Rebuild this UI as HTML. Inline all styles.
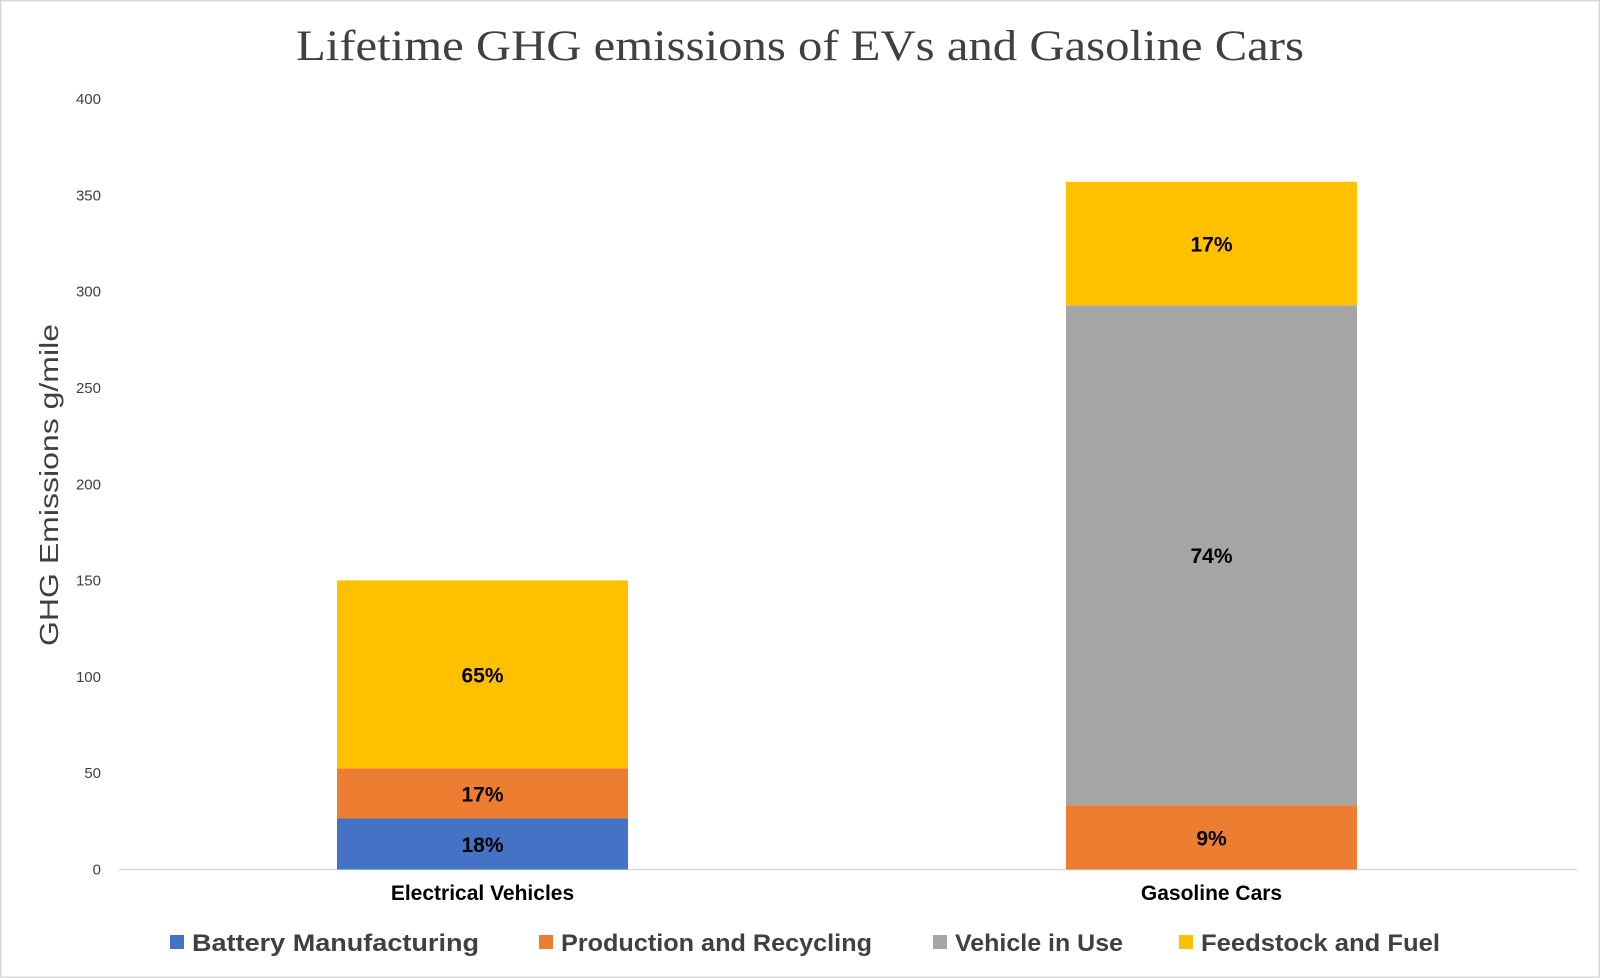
<!DOCTYPE html>
<html><head><meta charset="utf-8"><style>
body{margin:0;background:#fff}
svg{display:block}
</style></head><body>
<svg id="chart" width="1600" height="978" xmlns="http://www.w3.org/2000/svg">
<rect x="0.5" y="0.5" width="1599" height="977" fill="#fff" stroke="#d9d9d9" stroke-width="2"/>
<text x="800" y="60" text-anchor="middle" font-family="Liberation Serif, serif" font-size="43" fill="#404040" textLength="1008" lengthAdjust="spacingAndGlyphs">Lifetime GHG emissions of EVs and Gasoline Cars</text>
<text transform="translate(58,485) rotate(-90)" text-anchor="middle" font-family="Liberation Sans, sans-serif" font-size="26" fill="#404040" textLength="322" lengthAdjust="spacingAndGlyphs">GHG Emissions g/mile</text>
<g id="ticks"></g><g id="bars"></g><g id="legend"></g>
</svg>
<script>
const categories = ["Electrical Vehicles", "Gasoline Cars"];
const seriesNames = ["Battery Manufacturing", "Production and Recycling", "Vehicle in Use", "Feedstock and Fuel"];
const battery = [26.5, 0];
const production = [26, 33.4];
const vehicleUse = [0, 259.5];
const feedstock = [97.6, 64.1];
const pctLabels = [["18%","17%","","65%"],["","9%","74%","17%"]];
const yTicks = [0, 50, 100, 150, 200, 250, 300, 350, 400];
const colors = ["#4472c4", "#ed7d31", "#a5a5a5", "#ffc000"];
const NS = "http://www.w3.org/2000/svg";
const y0 = 869.5, yTop = 99, yMax = 400;
const y = v => y0 - v / yMax * (y0 - yTop);
const barW = 291;
const xCenter = i => 482.5 + i * 729;
function mk(tag, attrs, parent){const e=document.createElementNS(NS,tag);for(const k in attrs)e.setAttribute(k,attrs[k]);parent.appendChild(e);return e;}
const ticksG=document.getElementById('ticks');
yTicks.forEach(t=>{
  const tx=mk('text',{x:101,y:y(t)+5,'text-anchor':'end','font-family':'Liberation Sans, sans-serif','font-size':15,fill:'#404040'},ticksG);
  tx.textContent=t;
  
  
});
const axis=mk('line',{x1:119,x2:1577,y1:y0,y2:y0,stroke:'#d9d9d9','stroke-width':1.5},ticksG);


const barsG=document.getElementById('bars');
const series=[battery,production,vehicleUse,feedstock];
categories.forEach((c,i)=>{
  let base=0;
  series.forEach((s,j)=>{
    const v=s[i]; if(!v) return;
    const r=mk('rect',{x:xCenter(i)-barW/2,y:y(base+v),width:barW,height:y(base)-y(base+v),fill:colors[j]},barsG);
    
    
    if(pctLabels[i][j]){
      const t=mk('text',{x:xCenter(i),y:(y(base)+y(base+v))/2+8,'text-anchor':'middle','font-family':'Liberation Sans, sans-serif','font-size':21,'font-weight':'bold',fill:'#000'},barsG);
      t.textContent=pctLabels[i][j];
      
      
    }
    base+=v;
  });
  const ct=mk('text',{x:xCenter(i),y:900,'text-anchor':'middle','font-family':'Liberation Sans, sans-serif','font-size':21,'font-weight':'bold',fill:'#000'},barsG);
  ct.textContent=c;
  
  
});
const legG=document.getElementById('legend');
const legX=[170,539,933,1179];
const legW=[287,311,168,239];
seriesNames.forEach((n,j)=>{
  const sq=mk('rect',{x:legX[j],y:935,width:14,height:14,fill:colors[j]},legG);
  
  
  const t=mk('text',{x:legX[j]+22,y:951,'font-family':'Liberation Sans, sans-serif','font-size':24,'font-weight':'bold',fill:'#404040',textLength:legW[j],lengthAdjust:'spacingAndGlyphs'},legG);
  t.textContent=n;
  
  
});
</script>
</body></html>
